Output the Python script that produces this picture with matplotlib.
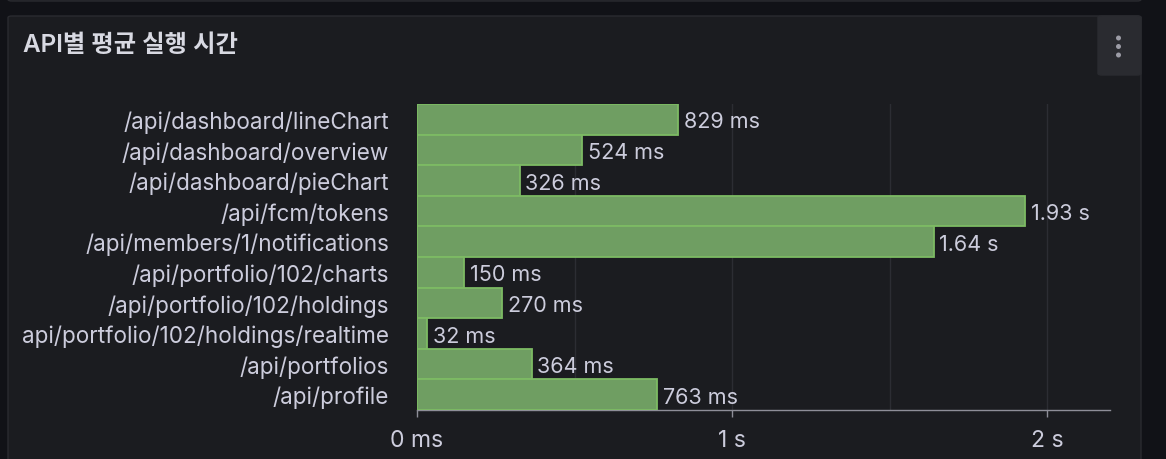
import matplotlib
matplotlib.use("Agg")
import matplotlib.pyplot as plt
from matplotlib.patches import FancyBboxPatch, Ellipse

# data
endpoints = [
    "/api/dashboard/lineChart",
    "/api/dashboard/overview",
    "/api/dashboard/pieChart",
    "/api/fcm/tokens",
    "/api/members/1/notifications",
    "/api/portfolio/102/charts",
    "/api/portfolio/102/holdings",
    "api/portfolio/102/holdings/realtime",
    "/api/portfolios",
    "/api/profile",
]
avg_seconds = [0.829, 0.524, 0.326, 1.93, 1.64, 0.150, 0.270, 0.032, 0.364, 0.763]
value_labels = ["829 ms", "524 ms", "326 ms", "1.93 s", "1.64 s",
                "150 ms", "270 ms", "32 ms", "364 ms", "763 ms"]
x_ticks = [0, 1, 2]
x_tick_labels = ["0 ms", "1 s", "2 s"]
title = "API별 평균 실행 시간"

W, H = 1166, 460
BG = "#111217"
PANEL = "#1b1c20"
BORDER = "#2a2b30"
TXT = "#ccccdc"
FONT = ["Inter", "Noto Sans CJK KR", "DejaVu Sans"]
plt.rcParams["font.family"] = FONT

fig = plt.figure(figsize=(W / 100, H / 100), dpi=100, facecolor=BG)


def box(x0, y0, x1, y1):
    # pixel box (top-left origin) -> figure fraction rect
    return [x0 / W, 1 - y1 / H, (x1 - x0) / W, (y1 - y0) / H]


def rpatch(x0, y0, x1, y1, fc, ec, r=4):
    l, b, w, h = box(x0, y0, x1, y1)
    p = FancyBboxPatch((l, b), w, h, boxstyle="round,pad=0,rounding_size=%f" % (r / W),
                       transform=fig.transFigure, facecolor=fc, edgecolor=ec,
                       linewidth=1, zorder=0)
    fig.add_artist(p)


# panel above (only bottom edge visible) and the main panel
rpatch(8, -30, 1141, 2, PANEL, BORDER)
rpatch(8, 17, 1141, 500, PANEL, BORDER)
# menu button
rpatch(1098, 17, 1141, 76, "#2a2b30", "#2a2b30")
for yy in (39, 47.5, 56):
    fig.add_artist(Ellipse((1118.5 / W, 1 - yy / H), 5 / W, 5 / H, transform=fig.transFigure,
                           facecolor="#9c9ca6", edgecolor="none"))

fig.text(23 / W, 1 - 46 / H, title, color="#d8d9e2", fontsize=17.5, fontweight="semibold",
         va="center", ha="left", family=FONT)

ax = fig.add_axes(box(417, 105, 1110, 411))
ax.set_facecolor("none")
ypos = list(range(len(endpoints)))
bars = ax.barh(ypos, avg_seconds, height=1.0, color="#6f9e62", edgecolor="#7dbb64",
               linewidth=1.3, zorder=3)
ax.set_ylim(len(endpoints) - 0.5, -0.5)
ax.set_xlim(0, 2.2)

ax.set_yticks(ypos)
ax.set_yticklabels(endpoints)
ax.tick_params(axis="y", length=0, pad=20, labelsize=16.2, labelcolor=TXT)
ax.set_xticks(x_ticks)
ax.set_xticklabels(x_tick_labels)
ax.set_xticks([0.5, 1.5], minor=True)
ax.tick_params(axis="x", which="major", length=5, width=1, color="#8e8e98", pad=9,
               labelsize=16.5, labelcolor=TXT)
ax.tick_params(axis="x", which="minor", length=0)
ax.grid(axis="x", which="both", color="#2c2d33", linewidth=1, zorder=0)

for s in ("top", "right", "left"):
    ax.spines[s].set_visible(False)
ax.spines["bottom"].set_color("#8e8e98")
ax.spines["bottom"].set_linewidth(1)

for b, lab in zip(bars, value_labels):
    ax.annotate(lab, (b.get_width(), b.get_y() + b.get_height() / 2), xytext=(4, -1.5),
                textcoords="offset points", va="center", ha="left", color=TXT, fontsize=15.5)

fig.savefig("out.png", dpi=100, facecolor=BG)
